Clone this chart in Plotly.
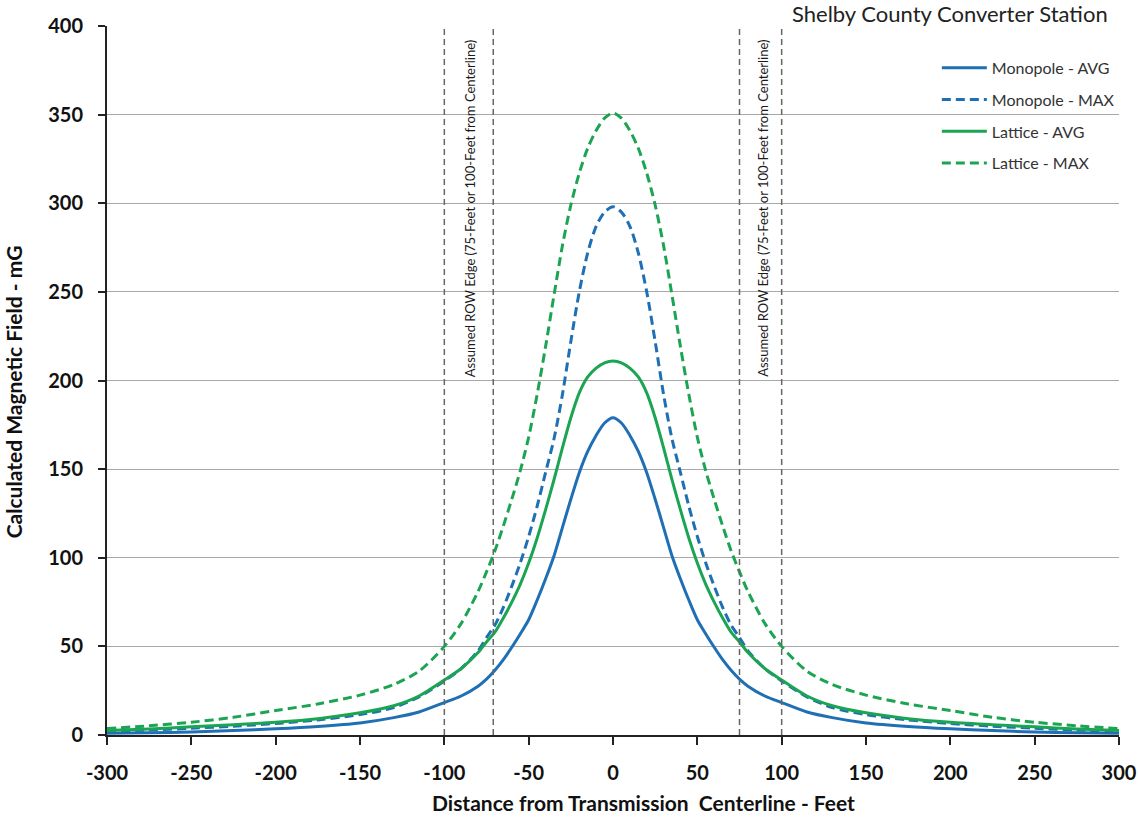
import plotly.graph_objects as go

# ---- data ----
DIST = [-300, -275, -250, -225, -200, -175, -150, -130, -115, -100, -90, -80, -75, -70, -65, -60, -55, -50,
        -45, -40, -35, -30, -25, -20, -15, -10, -5, 0, 5, 10, 15, 20, 25, 30, 35, 40, 45, 50, 55, 60, 65,
        70, 75, 80, 90, 100, 115, 130, 150, 175, 200, 225, 250, 275, 300]

MONO_AVG = [1.0, 1.3, 1.7, 2.5, 3.5, 4.8, 6.8, 9.8, 13, 18.3, 22, 27.5, 31.5, 36.5, 42.5, 49.5, 57, 65,
            76, 88, 101, 117, 133, 148, 160, 169, 176, 179, 176, 169, 160, 148, 133, 117, 101, 88, 76, 65,
            57, 49.5, 42.5, 36.5, 31.5, 27.5, 22, 18.3, 13, 9.8, 6.8, 4.8, 3.5, 2.5, 1.7, 1.3, 1.0]
MONO_MAX = [2.0, 2.8, 3.8, 5, 6.5, 8.5, 11.5, 15.5, 21.5, 30.5, 37.5, 47.5, 55, 62, 72, 84, 97, 112,
            129, 148, 167, 192, 222, 250, 272, 287, 295, 298, 295, 287, 272, 250, 222, 192, 167, 148, 129,
            112, 97, 84, 72, 62, 55, 47.5, 37.5, 30.5, 21.5, 15.5, 11.5, 8.5, 6.5, 5, 3.8, 2.8, 2.0]
LAT_AVG = [2.5, 3.4, 4.6, 5.8, 7.2, 9.2, 12.5, 16.5, 22, 31, 37.5, 46.5, 52.5, 58, 66, 75, 85, 97,
           111, 127, 144, 162, 179, 193, 202, 207, 210, 211, 210, 207, 202, 193, 179, 162, 144, 127, 111,
           97, 85, 75, 66, 58, 52.5, 46.5, 37.5, 31, 22, 16.5, 12.5, 9.2, 7.2, 5.8, 4.6, 3.4, 2.5]
LAT_MAX = [3.6, 5.2, 7.2, 10, 13.8, 17.5, 22.5, 28.5, 36, 50, 63, 81, 92, 104, 118, 133, 149, 168,
           192, 219, 248, 276, 299, 317, 331, 341, 348, 351, 348, 341, 331, 317, 299, 276, 248, 219, 192,
           168, 149, 133, 118, 104, 92, 81, 63, 50, 36, 28.5, 22.5, 17.5, 13.8, 10, 7.2, 5.2, 3.6]

ROW_EDGES = [-100, -71, 75, 100]
ROW_LABEL_X = [-85, 88.5]
ROW_LABEL_Y = 297
ROW_LABEL = "Assumed ROW Edge (75-Feet or 100-Feet from Centerline)"

X_TICKS = list(range(-300, 301, 50))
Y_TICKS = list(range(0, 401, 50))

BLUE = "#1F6FB4"
GREEN = "#1BA553"
FONT = "Lato"

fig = go.Figure()

series = [
    ("Monopole - AVG", MONO_AVG, BLUE, "solid"),
    ("Monopole - MAX", MONO_MAX, BLUE, "9px,5px"),
    ("Lattice - AVG", LAT_AVG, GREEN, "solid"),
    ("Lattice - MAX", LAT_MAX, GREEN, "9px,5px"),
]
for i, (name, vals, col, dash) in enumerate(series):
    fig.add_trace(go.Scatter(
        x=DIST, y=vals, name=name, mode="lines",
        line=dict(color=col, width=3, dash=dash, shape="spline", smoothing=0.8),
        legendgroup=f"g{i}",
    ))

for xe in ROW_EDGES:
    fig.add_shape(type="line", xref="x", yref="paper", x0=xe, x1=xe, y0=0, y1=1,
                  line=dict(color="#666666", width=1.5, dash="6px,4px"), layer="above")

for xl in ROW_LABEL_X:
    fig.add_annotation(x=xl, y=ROW_LABEL_Y, xref="x", yref="y", text=ROW_LABEL, showarrow=False,
                       textangle=-90, font=dict(family=FONT, size=13, color="#1A1A1A"))

fig.add_annotation(x=1.0, y=1.0, xref="paper", yref="paper", xanchor="right", yanchor="middle",
                   yshift=13, xshift=-9,
                   text="Shelby County Converter Station", showarrow=False,
                   font=dict(family=FONT, size=22, color="#222222"))

# axis titles
fig.add_annotation(x=0.5306, y=0, xref="paper", yref="paper", xanchor="center", yanchor="middle",
                   yshift=-67, showarrow=False,
                   text="Distance from Transmission&nbsp;&nbsp;Centerline - Feet",
                   font=dict(family=FONT, size=21, color="#111111", weight="bold"))
fig.add_annotation(x=0, y=0.4834, xref="paper", yref="paper", xanchor="center", yanchor="middle",
                   xshift=-94, showarrow=False, textangle=-90,
                   text="Calculated Magnetic Field - mG",
                   font=dict(family=FONT, size=21, color="#111111", weight="bold"))

fig.update_layout(
    width=1138, height=817,
    margin=dict(l=107, r=19, t=26, b=82),
    plot_bgcolor="white", paper_bgcolor="white",
    showlegend=True,
    legend=dict(x=0.820, y=0.965, xanchor="left", yanchor="top",
                bgcolor="rgba(0,0,0,0)", traceorder="grouped", tracegroupgap=8,
                itemwidth=45,
                font=dict(family=FONT, size=16, color="#333333")),
    xaxis=dict(range=[-300, 300], tickvals=X_TICKS, ticktext=[str(v) for v in X_TICKS],
               automargin=False,
               showgrid=False, zeroline=False, showline=True, linecolor="#222222", linewidth=2,
               ticks="outside", ticklen=8, tickwidth=2, tickcolor="#222222",
               tickfont=dict(family=FONT, size=20, color="#111111", weight="bold"),
               ticklabelstandoff=11),
    yaxis=dict(range=[0, 400], tickvals=Y_TICKS, ticktext=[str(v) for v in Y_TICKS],
               automargin=False,
               showgrid=True, gridcolor="#A8A8A8", gridwidth=1, zeroline=False,
               showline=True, linecolor="#222222", linewidth=2,
               ticks="outside", ticklen=7, tickwidth=2, tickcolor="#222222",
               tickfont=dict(family=FONT, size=20, color="#111111", weight="bold"),
               ticklabelstandoff=11),
)

fig.write_html("out.html")
